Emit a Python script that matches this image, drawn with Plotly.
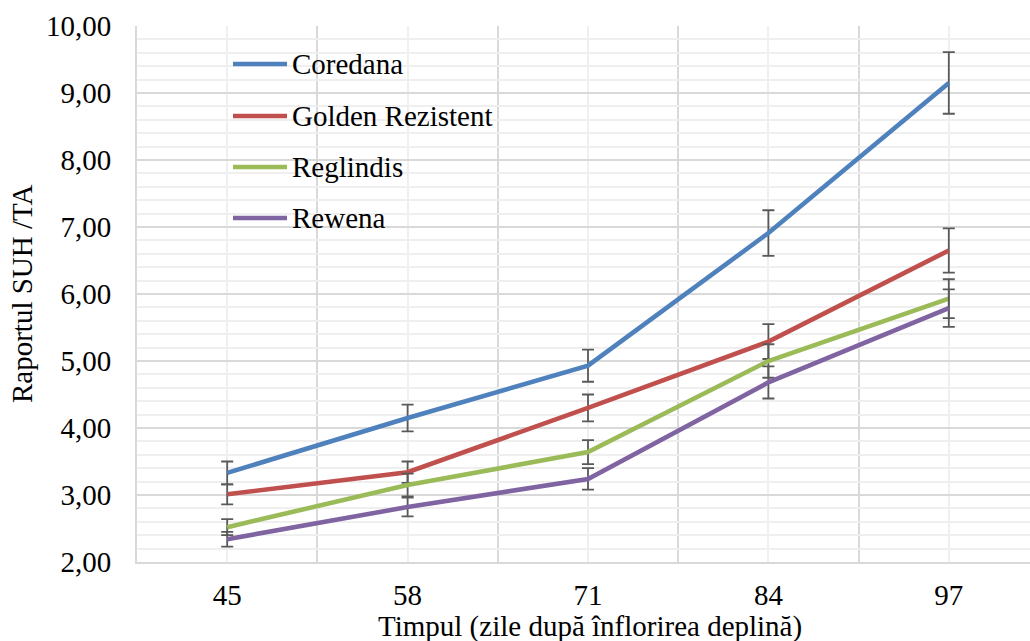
import plotly.graph_objects as go

# Days after full bloom (categories on the x axis)
days = ["45", "58", "71", "84", "97"]

# SUH/TA ratio per cultivar, with standard deviations
coredana = [3.33, 4.15, 4.93, 6.91, 9.15]
coredana_err = [0.17, 0.20, 0.24, 0.34, 0.46]

golden = [3.01, 3.34, 4.30, 5.29, 6.65]
golden_err = [0.15, 0.16, 0.20, 0.26, 0.33]

reglindis = [2.52, 3.15, 3.64, 5.00, 5.93]
reglindis_err = [0.12, 0.17, 0.18, 0.25, 0.29]

rewena = [2.34, 2.82, 3.24, 4.68, 5.79]
rewena_err = [0.11, 0.14, 0.16, 0.24, 0.28]

names = ["Coredana", "Golden Rezistent", "Reglindis", "Rewena"]
colors = ["#4F81BD", "#C0504D", "#9BBB59", "#8064A2"]
values = [coredana, golden, reglindis, rewena]
errors = [coredana_err, golden_err, reglindis_err, rewena_err]

FONT = "Liberation Serif"
FS = 29
W, H = 1030, 641
ML, MR, MT, MB = 137, 0, 26, 79
PW, PH = W - ML - MR, H - MT - MB


def px_x(px):
    return (px - ML) / PW


def px_y(py):
    return (H - MB - py) / PH


xpos = list(range(len(days)))

fig = go.Figure()
for name, color, ys, err in zip(names, colors, values, errors):
    fig.add_trace(go.Scatter(
        x=xpos, y=ys, name=name, mode="lines",
        line=dict(color=color, width=4.6),
        error_y=dict(type="data", array=err, visible=True,
                     color="#595959", thickness=1.8, width=6),
        showlegend=False,
    ))

# Legend drawn as line samples plus labels inside the plot area
legend_y = [64, 116, 167, 218]
for name, color, ly in zip(names, colors, legend_y):
    fig.add_shape(type="line", xref="paper", yref="paper",
                  x0=px_x(233), x1=px_x(287), y0=px_y(ly), y1=px_y(ly),
                  line=dict(color=color, width=4.6), layer="above")
    fig.add_annotation(xref="paper", yref="paper", x=px_x(290), y=px_y(ly),
                       text=name, showarrow=False, xanchor="left",
                       yanchor="middle",
                       font=dict(family=FONT, size=FS, color="black"))

# Axis titles
fig.add_annotation(xref="paper", yref="paper", x=px_x(590), y=px_y(626),
                   text="Timpul (zile după înflorirea deplină)",
                   showarrow=False, xanchor="center", yanchor="middle",
                   font=dict(family=FONT, size=FS, color="black"))
fig.add_annotation(xref="paper", yref="paper", x=px_x(22), y=0.5,
                   text="Raportul SUH /TA", textangle=-90,
                   showarrow=False, xanchor="center", yanchor="middle",
                   font=dict(family=FONT, size=FS, color="black"))

fig.update_layout(
    width=W, height=H,
    margin=dict(l=ML, r=MR, t=MT, b=MB, pad=0),
    paper_bgcolor="white", plot_bgcolor="white",
    separators=", ",
    font=dict(family=FONT, size=FS, color="black"),
    xaxis=dict(
        range=[-0.5, -0.5 + PW / 180.4],
        tickvals=xpos, ticktext=days,
        showgrid=True, gridcolor="#EFEFEF", gridwidth=1.5,
        minor=dict(tick0=-0.5, dtick=1, showgrid=True,
                   gridcolor="#D9D9D9", gridwidth=1.8),
        showline=True, linecolor="#D9D9D9", linewidth=2,
        zeroline=False, ticks="", ticklabelstandoff=6,
        tickfont=dict(family=FONT, size=FS, color="black"),
    ),
    yaxis=dict(
        range=[2, 10], dtick=1, tick0=2, tickformat=".2f",
        showgrid=True, gridcolor="#D9D9D9", gridwidth=1.8,
        minor=dict(dtick=0.2, showgrid=True, gridcolor="#EFEFEF",
                   gridwidth=1.5),
        showline=True, linecolor="#D9D9D9", linewidth=2,
        zeroline=False, ticks="", ticklabelstandoff=18,
        tickfont=dict(family=FONT, size=FS, color="black"),
    ),
)

fig.write_html("out.html")
